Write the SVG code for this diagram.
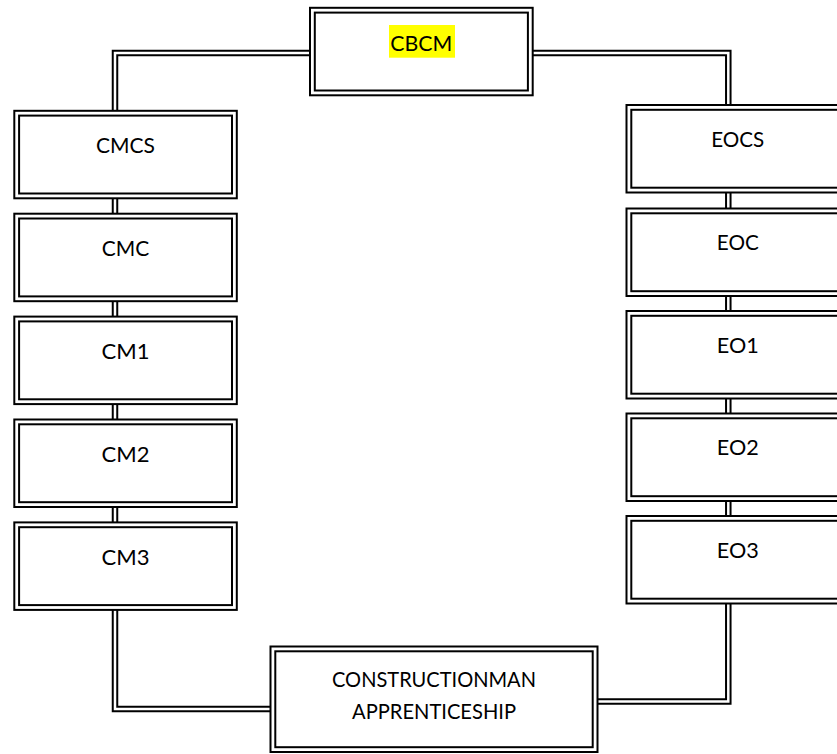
<svg xmlns="http://www.w3.org/2000/svg" xmlns:xlink="http://www.w3.org/1999/xlink" width="837" height="754" viewBox="0 0 837 754">
<style>
.bo{fill:#fff;stroke:#000;stroke-width:2}
.bi{fill:none;stroke:#000;stroke-width:2}
.lbl{font-family:Lato,"Liberation Sans",sans-serif;font-size:22px;fill:#000;text-anchor:middle}
.cb{fill:none;stroke:#000;stroke-width:6.5;stroke-linejoin:miter}
.cw{fill:none;stroke:#fff;stroke-width:2.5;stroke-linejoin:miter}
</style>
<defs>
<path id="c1" d="M311 53 H115 V112"/>
<path id="c2" d="M531.7 53 H728.3 V106"/>
<path id="c3" d="M115 197.3 V214.7"/>
<path id="c4" d="M115 300.2 V317.6"/>
<path id="c5" d="M115 403.1 V420.5"/>
<path id="c6" d="M115 506 V523.4"/>
<path id="c7" d="M728.3 191.5 V209.5"/>
<path id="c8" d="M728.3 295 V312"/>
<path id="c9" d="M728.3 397.5 V414.5"/>
<path id="c10" d="M728.3 500 V517"/>
<path id="c11" d="M115 608.9 V709 H271.5"/>
<path id="c12" d="M728.3 602.5 V701.5 H596.5"/>
</defs>
<rect width="837" height="754" fill="#fff"/>
<g id="connectors">
<use xlink:href="#c1" class="cb"/><use xlink:href="#c1" class="cw"/>
<use xlink:href="#c2" class="cb"/><use xlink:href="#c2" class="cw"/>
<use xlink:href="#c3" class="cb"/><use xlink:href="#c3" class="cw"/>
<use xlink:href="#c4" class="cb"/><use xlink:href="#c4" class="cw"/>
<use xlink:href="#c5" class="cb"/><use xlink:href="#c5" class="cw"/>
<use xlink:href="#c6" class="cb"/><use xlink:href="#c6" class="cw"/>
<use xlink:href="#c7" class="cb"/><use xlink:href="#c7" class="cw"/>
<use xlink:href="#c8" class="cb"/><use xlink:href="#c8" class="cw"/>
<use xlink:href="#c9" class="cb"/><use xlink:href="#c9" class="cw"/>
<use xlink:href="#c10" class="cb"/><use xlink:href="#c10" class="cw"/>
<use xlink:href="#c11" class="cb"/><use xlink:href="#c11" class="cw"/>
<use xlink:href="#c12" class="cb"/><use xlink:href="#c12" class="cw"/>
</g>
<g id="node-cbcm">
<rect class="bo" x="310" y="7.8" width="222.7" height="87.5"/>
<rect class="bi" x="314.8" y="12.6" width="213.1" height="77.9"/>
<rect x="389" y="25" width="66" height="32.7" fill="#ffff00"/>
<text class="lbl" x="421.3" y="50.7" textLength="62" lengthAdjust="spacingAndGlyphs">CBCM</text>
</g>
<g id="node-cmcs">
<rect class="bo" x="14.3" y="110.8" width="222.5" height="87.5"/>
<rect class="bi" x="19.1" y="115.6" width="212.9" height="77.9"/>
<text class="lbl" x="125.5" y="153.3" textLength="59" lengthAdjust="spacingAndGlyphs">CMCS</text>
</g>
<g id="node-cmc">
<rect class="bo" x="14.3" y="213.7" width="222.5" height="87.5"/>
<rect class="bi" x="19.1" y="218.5" width="212.9" height="77.9"/>
<text class="lbl" x="125.5" y="256.2" textLength="47.5" lengthAdjust="spacingAndGlyphs">CMC</text>
</g>
<g id="node-cm1">
<rect class="bo" x="14.3" y="316.6" width="222.5" height="87.5"/>
<rect class="bi" x="19.1" y="321.4" width="212.9" height="77.9"/>
<text class="lbl" x="125.5" y="359.1" textLength="48" lengthAdjust="spacingAndGlyphs">CM1</text>
</g>
<g id="node-cm2">
<rect class="bo" x="14.3" y="419.5" width="222.5" height="87.5"/>
<rect class="bi" x="19.1" y="424.3" width="212.9" height="77.9"/>
<text class="lbl" x="125.5" y="462" textLength="48" lengthAdjust="spacingAndGlyphs">CM2</text>
</g>
<g id="node-cm3">
<rect class="bo" x="14.3" y="522.4" width="222.5" height="87.5"/>
<rect class="bi" x="19.1" y="527.2" width="212.9" height="77.9"/>
<text class="lbl" x="125.5" y="564.9" textLength="48" lengthAdjust="spacingAndGlyphs">CM3</text>
</g>
<g id="node-eocs">
<rect class="bo" x="626.5" y="105" width="222.5" height="87.5"/>
<rect class="bi" x="631.3" y="109.8" width="212.9" height="77.9"/>
<text class="lbl" x="737.8" y="146.7" textLength="53" lengthAdjust="spacingAndGlyphs">EOCS</text>
</g>
<g id="node-eoc">
<rect class="bo" x="626.5" y="208.5" width="222.5" height="87.5"/>
<rect class="bi" x="631.3" y="213.3" width="212.9" height="77.9"/>
<text class="lbl" x="737.8" y="250.2" textLength="42" lengthAdjust="spacingAndGlyphs">EOC</text>
</g>
<g id="node-eo1">
<rect class="bo" x="626.5" y="311" width="222.5" height="87.5"/>
<rect class="bi" x="631.3" y="315.8" width="212.9" height="77.9"/>
<text class="lbl" x="737.8" y="352.7" textLength="42" lengthAdjust="spacingAndGlyphs">EO1</text>
</g>
<g id="node-eo2">
<rect class="bo" x="626.5" y="413.5" width="222.5" height="87.5"/>
<rect class="bi" x="631.3" y="418.3" width="212.9" height="77.9"/>
<text class="lbl" x="737.8" y="455.2" textLength="42" lengthAdjust="spacingAndGlyphs">EO2</text>
</g>
<g id="node-eo3">
<rect class="bo" x="626.5" y="516" width="222.5" height="87.5"/>
<rect class="bi" x="631.3" y="520.8" width="212.9" height="77.9"/>
<text class="lbl" x="737.8" y="557.7" textLength="42" lengthAdjust="spacingAndGlyphs">EO3</text>
</g>
<g id="node-apprenticeship">
<rect class="bo" x="270.5" y="646.5" width="327" height="105.5"/>
<rect class="bi" x="275.3" y="651.3" width="317.4" height="95.9"/>
<text class="lbl" x="434" y="686.7" textLength="204" lengthAdjust="spacingAndGlyphs">CONSTRUCTIONMAN</text>
<text class="lbl" x="434" y="719.3" textLength="164" lengthAdjust="spacingAndGlyphs">APPRENTICESHIP</text>
</g>
</svg>
